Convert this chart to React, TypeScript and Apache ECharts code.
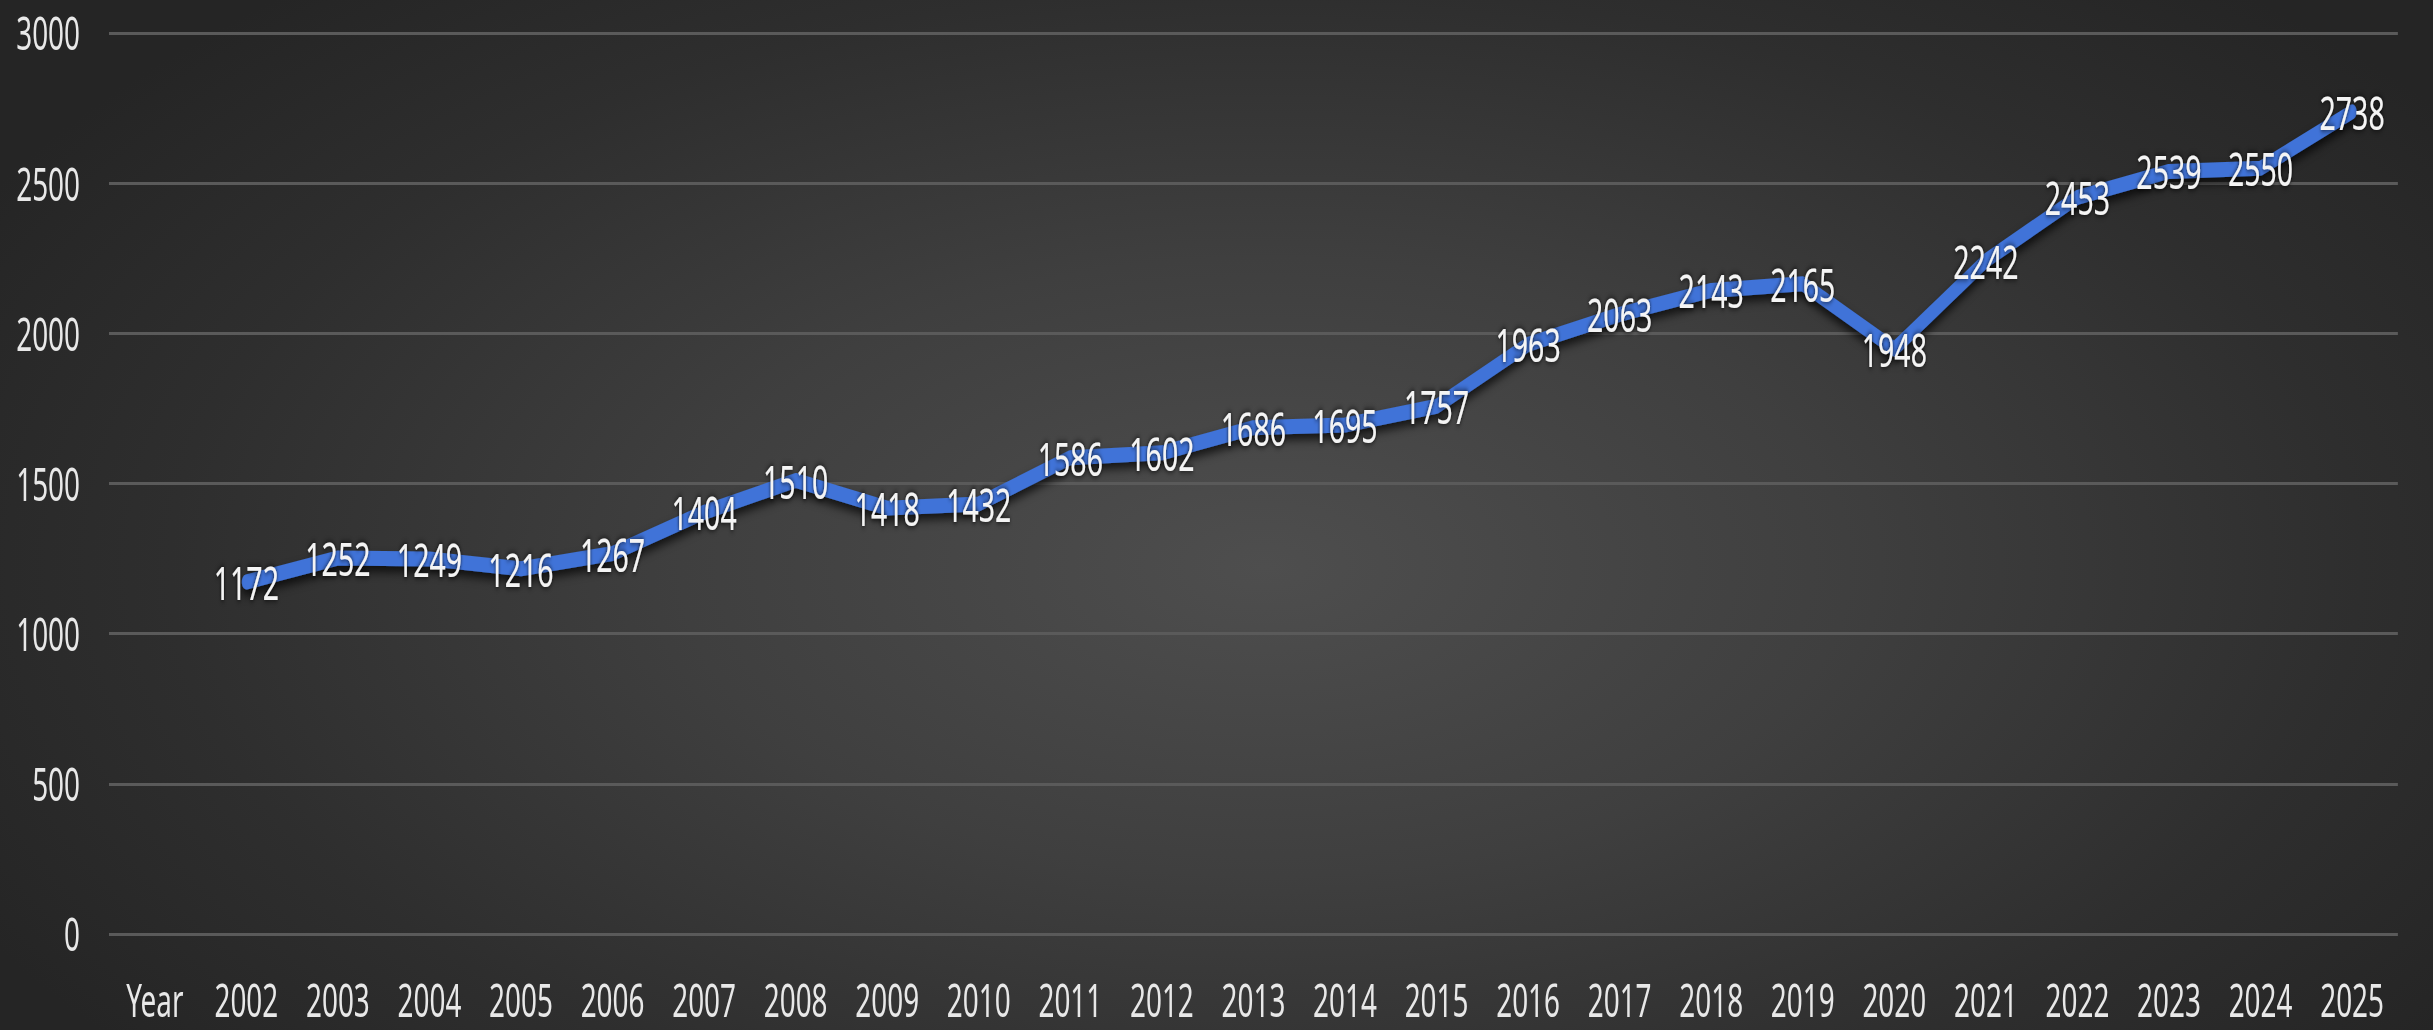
import React, { useEffect, useRef } from "react";
import * as echarts from "echarts";

const categories: string[] = [
  "Year", "2002", "2003", "2004", "2005", "2006", "2007", "2008", "2009", "2010",
  "2011", "2012", "2013", "2014", "2015", "2016", "2017", "2018", "2019", "2020",
  "2021", "2022", "2023", "2024", "2025",
];

const values: (number | null)[] = [
  null, 1172, 1252, 1249, 1216, 1267, 1404, 1510, 1418, 1432,
  1586, 1602, 1686, 1695, 1757, 1963, 2063, 2143, 2165, 1948,
  2242, 2453, 2539, 2550, 2738,
];

const yMin = 0;
const yMax = 3000;
const yInterval = 500;

const W = 2433;
const H = 1030;
const SX = 0.62; // horizontal condensing of the whole drawing (narrow typeface look)
const FONT = "'Noto Sans', 'Open Sans', sans-serif";

export default function App() {
  const ref = useRef<HTMLDivElement | null>(null);

  useEffect(() => {
    if (!ref.current) return;
    const chart = echarts.init(ref.current, undefined, { renderer: "svg" });
    chart.setOption({
      animation: false,
      backgroundColor: "transparent",
      grid: { left: 109 / SX, right: 35 / SX, top: 33, bottom: 96, containLabel: false },
      xAxis: {
        type: "category",
        data: categories,
        boundaryGap: true,
        axisLine: { show: false },
        axisTick: { show: false },
        axisLabel: {
          color: "#e8e8e8",
          fontFamily: FONT,
          fontSize: 45,
          lineHeight: 40,
          margin: 46,
          interval: 0,
        },
        splitLine: { show: false },
      },
      yAxis: {
        type: "value",
        min: yMin,
        max: yMax,
        interval: yInterval,
        axisLine: { show: false },
        axisTick: { show: false },
        axisLabel: {
          color: "#e8e8e8",
          fontFamily: FONT,
          fontSize: 45,
          lineHeight: 40,
          margin: 29 / SX,
          formatter: (v: number) => String(v),
        },
        splitLine: { show: true, lineStyle: { color: "#5a5a5a", width: 3 } },
      },
      series: [
        {
          type: "line",
          data: values,
          symbol: "circle",
          symbolSize: 1,
          showSymbol: true,
          itemStyle: { color: "rgba(0,0,0,0)", borderWidth: 0 },
          connectNulls: false,
          lineStyle: {
            color: "#3F73D8",
            width: 15,
            join: "round",
            cap: "round",
            shadowColor: "rgba(0,0,0,0.7)",
            shadowBlur: 10,
            shadowOffsetY: 6,
          },
          label: {
            show: true,
            position: "inside",
            color: "#f4f4f4",
            fontFamily: FONT,
            fontSize: 46,
            textShadowColor: "rgba(0,0,0,0.9)",
            textShadowBlur: 6,
          },
          labelLayout: { hideOverlap: false },
          emphasis: { disabled: true },
        },
      ],
    });
    return () => chart.dispose();
  }, []);

  return (
    <div
      style={{
        position: "fixed",
        left: 0,
        top: 0,
        width: W,
        height: H,
        overflow: "hidden",
        background:
          "radial-gradient(ellipse 60% 75% at 52% 55%, #4e4e4e 0%, #3f3f3f 40%, #2e2e2e 75%, #252525 100%)",
      }}
    >
      <div
        ref={ref}
        style={{
          position: "absolute",
          left: 0,
          top: 0,
          width: W / SX,
          height: H,
          transform: `scaleX(${SX})`,
          transformOrigin: "0 0",
        }}
      />
    </div>
  );
}
